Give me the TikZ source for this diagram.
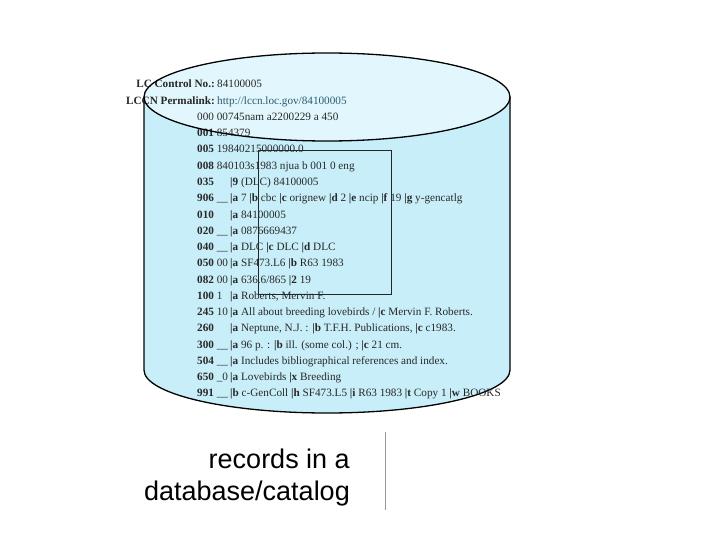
\documentclass[tikz,border=0pt]{standalone}
\usepackage{fontspec}
\setmainfont{Liberation Serif}
\newfontfamily\capfont{Liberation Sans}
\definecolor{cylbody}{RGB}{200,238,250}
\definecolor{cyltop}{RGB}{226,247,253}
\definecolor{rectxt}{RGB}{40,40,40}
\definecolor{urlcol}{RGB}{40,90,110}
\newcommand\sfd[1]{\textbf{|#1}}
\newcommand\tg[2]{\makebox[33pt][l]{\textbf{#1} #2}}
\newcommand\uu{\textunderscore\textunderscore}
\begin{document}
\begin{tikzpicture}[x=1pt,y=-1pt,
  rec/.style={anchor=base west,inner sep=0pt,text=rectxt,font=\fontsize{11.2}{13}\selectfont},
  lab/.style={anchor=base east,inner sep=0pt,text=rectxt,font=\fontsize{11.2}{13}\selectfont\bfseries},
  captext/.style={anchor=base east,inner sep=0pt,font=\capfont\fontsize{27}{32}\selectfont},
  cylline/.style={draw=black,line width=1.3pt},
  recbox/.style={draw=black!85,line width=0.8pt},
  sepline/.style={draw=black!40,line width=1pt}]
\useasboundingbox (0,0) rectangle (720,540);
% cylinder body
\fill[cylbody] (144,97) -- (144,370) arc[start angle=180,end angle=0,x radius=183,y radius=43] -- (510,97) -- cycle;
\draw[cylline] (144,97) -- (144,370) arc[start angle=180,end angle=0,x radius=183,y radius=43] -- (510,97);
\fill[cyltop] (327,97) ellipse[x radius=183,y radius=44];
% texts
\node[lab] (l1a) at (215,88) {LC Control No.:};
\node[rec] (l1) at (217,88) {84100005};
\node[lab] (l2a) at (215,104.3) {LCCN Permalink:};
\node[rec,text=urlcol] (l2) at (217,104.3) {http://lccn.loc.gov/84100005};
\node[rec] (l3) at (197,120.5) {000 00745nam a2200229 a 450};
\node[rec] (l4) at (197,136.8) {\textbf{001} 854379};
\node[rec] (l5) at (197,153.0) {\textbf{005} 19840215000000.0};
\node[rec] (l6) at (197,169.3) {\textbf{008} 840103s1983 njua b 001 0 eng};
\node[rec] (l7) at (197,185.6) {\tg{035}{}\sfd{9} (DLC) 84100005};
\node[rec] (l8) at (197,201.8) {\tg{906}{\uu}\sfd{a} 7 \sfd{b} cbc \sfd{c} orignew \sfd{d} 2 \sfd{e} ncip \sfd{f} 19 \sfd{g} y-gencatlg};
\node[rec] (l9) at (197,218.1) {\tg{010}{}\sfd{a} 84100005};
\node[rec] (l10) at (197,234.3) {\tg{020}{\uu}\sfd{a} 0876669437};
\node[rec] (l11) at (197,250.6) {\tg{040}{\uu}\sfd{a} DLC \sfd{c} DLC \sfd{d} DLC};
\node[rec] (l12) at (197,266.9) {\tg{050}{00}\sfd{a} SF473.L6 \sfd{b} R63 1983};
\node[rec] (l13) at (197,283.1) {\tg{082}{00}\sfd{a} 636.6/865 \sfd{2} 19};
\node[rec] (l14) at (197,299.4) {\tg{100}{1}\sfd{a} Roberts, Mervin F.};
\node[rec] (l15) at (197,315.6) {\tg{245}{10}\sfd{a} All about breeding lovebirds / \sfd{c} Mervin F. Roberts.};
\node[rec] (l16) at (197,331.9) {\tg{260}{}\sfd{a} Neptune, N.J. : \sfd{b} T.F.H. Publications, \sfd{c} c1983.};
\node[rec] (l17) at (197,348.2) {\tg{300}{\uu}\sfd{a} 96 p. : \sfd{b} ill. (some col.) ; \sfd{c} 21 cm.};
\node[rec] (l18) at (197,364.4) {\tg{504}{\uu}\sfd{a} Includes bibliographical references and index.};
\node[rec] (l19) at (197,380.7) {\tg{650}{\textunderscore0}\sfd{a} Lovebirds \sfd{x} Breeding};
\node[rec] (l20) at (197,396.9) {\tg{991}{\uu}\sfd{b} c-GenColl \sfd{h} SF473.L5 \sfd{i} R63 1983 \sfd{t} Copy 1 \sfd{w} BOOKS};
% outlines on top
\draw[cylline] (327,97) ellipse[x radius=183,y radius=44];
\draw[recbox] (258,150) rectangle (391,294);
% caption
\node[captext] (c1) at (350,468) {records in a};
\node[captext] (c2) at (350,500) {database/catalog};
\coordinate (s1) at (385,432);
\coordinate (s2) at (385,510);
\draw[sepline] (s1) -- (s2);
\end{tikzpicture}
\end{document}
